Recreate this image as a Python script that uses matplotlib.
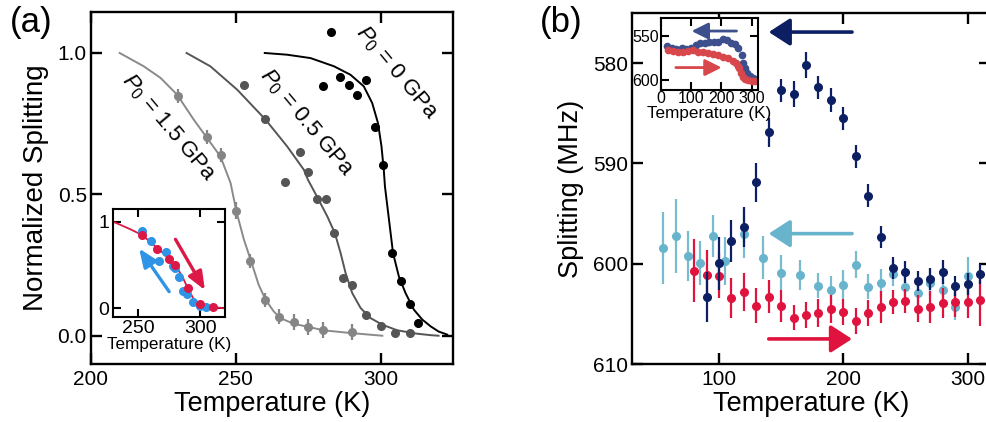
import numpy as np
import matplotlib
matplotlib.use("Agg")
import matplotlib.pyplot as plt

plt.rcParams["font.family"] = ["Liberation Sans", "DejaVu Sans"]
plt.rcParams["mathtext.fontset"] = "custom"
plt.rcParams["mathtext.rm"] = "Liberation Sans"
plt.rcParams["mathtext.it"] = "Liberation Sans:italic"

# ---------------- panel (a) data ----------------
t_p0 = [280, 283, 286, 289, 292, 295, 298, 301, 304, 307, 310, 313]
s_p0 = [0.882, 1.074, 0.915, 0.886, 0.850, 0.906, 0.739, 0.605, 0.292, 0.195, 0.112, 0.045]

t_p05 = [253, 260, 267, 272, 275, 278, 281, 284, 287, 290, 295, 300, 305, 310]
s_p05 = [0.886, 0.768, 0.544, 0.650, 0.578, 0.483, 0.483, 0.363, 0.204, 0.178, 0.072, 0.033, 0.009, 0.011]
e_p05 = [0.012] * len(t_p05)

t_p15 = [230, 240, 245, 250, 255, 260, 265, 270, 275, 280, 290]
s_p15 = [0.847, 0.702, 0.638, 0.442, 0.265, 0.127, 0.068, 0.048, 0.031, 0.020, 0.013]
e_p15 = [0.025, 0.025, 0.025, 0.03, 0.025, 0.025, 0.025, 0.028, 0.028, 0.028, 0.028]

# fit curves
fit0_t = [260, 267.7, 275.8, 283.9, 289.6, 294.2, 297.1, 299.1, 300.3, 301.1, 301.5,
          302.9, 304.3, 306.3, 308.6, 311.5, 314.4, 317.3, 320, 323]
fit0_s = [1.0, 0.994, 0.982, 0.953, 0.923, 0.882, 0.823, 0.752, 0.67, 0.587, 0.528,
          0.41, 0.292, 0.21, 0.151, 0.092, 0.057, 0.033, 0.015, 0.004]
fit05_t = [233, 241.2, 250.5, 260.3, 267.7, 273.5, 274.9, 278.3, 281.6, 284.2, 286.2,
           287.9, 290.2, 293.1, 296.5, 300.6, 305.8, 312.7, 317.3, 320]
fit05_s = [1.0, 0.953, 0.87, 0.764, 0.67, 0.587, 0.552, 0.487, 0.422, 0.363, 0.292,
           0.222, 0.151, 0.098, 0.0625, 0.039, 0.019, 0.007, 0.002, 0.0]
fit15_t = [209.9, 218.2, 224.0, 229.7, 235.5, 240.1, 244.7, 248.2, 250.2, 252.8, 255.3,
           257.9, 260.3, 263.1, 265.4, 270, 275.2, 280.4, 290.2, 300.6]
fit15_s = [1.0, 0.953, 0.912, 0.853, 0.764, 0.699, 0.634, 0.540, 0.44, 0.34, 0.263,
           0.18, 0.127, 0.086, 0.0625, 0.042, 0.031, 0.019, 0.009, 0.0]

# inset (a)
in_red_t = [253, 265, 275, 280, 290, 300, 310]
in_red_s = [0.846, 0.688, 0.569, 0.50, 0.231, 0.046, 0.015]
in_blue_t = [253, 260.5, 266.7, 272.3, 277.7, 280, 283, 286.3, 289.5, 294.4, 300, 305]
in_blue_s = [0.892, 0.777, 0.55, 0.654, 0.492, 0.46, 0.365, 0.2, 0.16, 0.069, 0.03, 0.019]
in_fit_t = [229.8, 243.3, 253.2, 265, 275, 280.9, 286.3, 290, 294.4, 298.4, 305, 320]
in_fit_s = [1.0, 0.915, 0.846, 0.70, 0.577, 0.48, 0.346, 0.231, 0.115, 0.05, 0.019, 0.0]

# ---------------- panel (b) data ----------------
nv_t = [90, 100, 110, 120, 130, 140, 150, 160, 170, 180, 190, 200, 210, 220, 230,
        240, 250, 260, 270, 280, 290, 300, 310]
nv_f = [603.3, 599.95, 597.7, 596.3, 591.9, 586.9, 582.7, 583.1, 580.2, 582.4, 583.7,
        585.5, 589.3, 593.2, 597.3, 600.4, 600.8, 601.7, 601.5, 600.8, 602.2, 602.0, 601.0]
nv_e = [2.5, 2.65, 2.1, 2.0, 1.95, 1.45, 1.15, 1.3, 1.3, 1.15, 1.2, 1.15, 1.15, 1.15,
        1.1, 1.1, 1.1, 1.0, 1.1, 1.2, 1.0, 1.1, 1.0]

lb_t = [55, 65, 75, 85, 95, 105, 120, 135, 150, 165, 180, 190, 200, 210, 220, 230,
        240, 250, 260, 270, 280, 290, 300]
lb_f = [598.4, 597.2, 599.2, 599.9, 597.2, 599.7, 597.0, 599.4, 600.9, 601.1, 602.2,
        602.6, 602.1, 600.1, 602.3, 601.9, 601.0, 602.3, 602.9, 601.9, 602.6, 604.3, 601.2]
lb_e = [3.6, 3.7, 2.5, 2.2, 2.1, 2.4, 2.45, 2.15, 1.75, 1.5, 1.25, 1.35, 1.45, 1.33,
        1.25, 1.4, 1.25, 1.25, 1.3, 1.33, 1.33, 1.33, 1.9]

rd_t = [80, 90, 100, 110, 120, 130, 140, 150, 160, 170, 180, 190, 200, 210, 220, 230,
        240, 250, 260, 270, 280, 290, 300, 310]
rd_f = [600.7, 601.1, 601.2, 603.4, 602.8, 604.2, 603.3, 604.2, 605.4, 605.1, 604.9,
        604.5, 604.8, 605.7, 604.9, 604.3, 603.8, 603.7, 604.5, 604.3, 603.9, 603.8,
        603.8, 603.6]
rd_e = [3.15, 2.5, 2.25, 2.0, 1.9, 1.75, 1.65, 1.6, 1.25, 1.3, 1.4, 1.4, 1.3, 1.33,
        1.3, 1.6, 1.2, 1.2, 1.35, 1.6, 1.5, 1.5, 1.6, 2.6]

# inset (b)
inb_nv_t = [22, 36, 52, 69, 83, 100, 116, 130, 146, 160, 177, 190, 207, 218, 231, 245,
            256, 267, 273, 278, 286, 295, 305, 317]
inb_nv_f = [561.2, 563.4, 564.5, 564, 565, 563.4, 560.4, 558.6, 558.6, 556.7, 557.5,
            556.7, 553.7, 554.8, 558.6, 559.7, 564, 571.6, 581, 586.5, 592, 594.8, 597, 598.5]
inb_rd_t = [25, 42, 58, 75, 91, 108, 124, 141, 157, 174, 190, 207, 223, 237, 248, 256,
            259, 264, 270, 278, 289, 300, 311]
inb_rd_f = [566, 567.2, 568, 568.7, 567.2, 566, 568, 568.7, 569.8, 570.9, 571.6, 573.5,
            575.4, 578.3, 581, 583.6, 586.5, 592, 595.9, 598.5, 599.6, 600.7, 600.7]

NAVY = "#0c1f63"
LBLUE = "#68b4cd"
RED = "#e0133f"
IN_BLUE = "#2f93e6"
IN_RED = "#dc1846"
INB_NAVY = "#3d4f8c"
INB_RED = "#d8474b"


def style_axes(ax, size, length, width=1.7, pad=4):
    for sp in ax.spines.values():
        sp.set_linewidth(width)
    ax.tick_params(direction="in", top=True, right=True, length=length, width=width,
                   labelsize=size, pad=pad)


def arrow(ax, start, end, color, lw, hl, hw, scale):
    ax.annotate("", xy=end, xytext=start,
                arrowprops=dict(arrowstyle=f"-|>,head_length={hl},head_width={hw}",
                                color=color, lw=lw, shrinkA=0, shrinkB=0,
                                mutation_scale=scale))


fig = plt.figure(figsize=(9.86, 4.22), dpi=100)

# ---------------- panel (a) ----------------
ax = fig.add_axes([91 / 986, 58 / 422, 362 / 986, 352 / 422])
ax.plot(fit15_t, fit15_s, color="#8a8a8a", lw=1.4)
ax.plot(fit05_t, fit05_s, color="#555555", lw=1.4)
ax.plot(fit0_t, fit0_s, color="black", lw=1.4)
ax.errorbar(t_p15, s_p15, yerr=e_p15, fmt="o", color="#858585", ms=5.5, elinewidth=1.6, capsize=0)
ax.errorbar(t_p05, s_p05, yerr=e_p05, fmt="o", color="#555555", ms=5.5, elinewidth=1.2, capsize=0)
ax.plot(t_p0, s_p0, "o", color="black", ms=5.5)
ax.set_xlim(200, 325)
ax.set_ylim(-0.1, 1.145)
ax.set_xticks([200, 250, 300])
ax.set_yticks([0.0, 0.5, 1.0])
ax.set_yticklabels(["0.0", "0.5", "1.0"])
style_axes(ax, 15, 8, pad=4)
ax.tick_params(axis="y", pad=3)
ax.set_xlabel("Temperature (K)", fontsize=19.5, labelpad=2)
ax.set_ylabel("Normalized Splitting", fontsize=20, labelpad=6)
ax.text(305.4, 0.929, r"$P_0$ = 0 GPa", rotation=-50, fontsize=16, ha="center", va="center",
        rotation_mode="anchor")
ax.text(274.3, 0.752, r"$P_0$ = 0.5 GPa", rotation=-50, fontsize=16, ha="center", va="center",
        rotation_mode="anchor")
ax.text(226.8, 0.735, r"$P_0$ = 1.5 GPa", rotation=-50, fontsize=16, ha="center", va="center",
        rotation_mode="anchor")
fig.text(10 / 986, 1 - 6 / 422, "(a)", fontsize=25, va="top", ha="left")

# inset (a)
axi = fig.add_axes([113.3 / 986, (422 - 317.3) / 422, 111.7 / 986, 108.3 / 422])
axi.plot(in_fit_t, in_fit_s, color=IN_RED, lw=1.3, zorder=2)
axi.plot(in_blue_t, in_blue_s, "o", color=IN_BLUE, ms=5.5, zorder=3)
axi.plot(in_red_t, in_red_s, "o", color=IN_RED, ms=5.5, zorder=4)
arrow(axi, (280.1, 0.796), (303.8, 0.21), IN_RED, 2.4, 1.1, 0.45, 10)
arrow(axi, (275, 0.192), (250.8, 0.69), IN_BLUE, 2.4, 1.1, 0.45, 10)
axi.set_xlim(230, 320)
axi.set_ylim(-0.104, 1.146)
axi.set_xticks([250, 300])
axi.set_yticks([0, 1])
style_axes(axi, 14, 6, width=1.5, pad=2)
axi.tick_params(axis="y", pad=3)
axi.set_xlabel("Temperature (K)", fontsize=12.3, labelpad=0)

# ---------------- panel (b) ----------------
bx = fig.add_axes([632 / 986, 58 / 422, 358 / 986, 351 / 422])
bx.errorbar(lb_t, lb_f, yerr=lb_e, fmt="o", color=LBLUE, ecolor="#79bccf", ms=5.5,
            elinewidth=1.6, capsize=0, zorder=2)
bx.errorbar(rd_t, rd_f, yerr=rd_e, fmt="o", color=RED, ms=5.5, elinewidth=1.6, capsize=0, zorder=3)
bx.errorbar(nv_t, nv_f, yerr=nv_e, fmt="o", color=NAVY, ms=5.5, elinewidth=1.6, capsize=0, zorder=4)
arrow(bx, (207, 576.9), (140, 576.9), NAVY, 2.6, 0.65, 0.42, 20)
arrow(bx, (207, 597.0), (140, 597.0), LBLUE, 2.6, 0.65, 0.42, 20)
arrow(bx, (140, 607.5), (207, 607.5), RED, 2.6, 0.65, 0.42, 20)
bx.set_xlim(30, 318)
bx.set_ylim(610, 575)
bx.set_xticks([100, 200, 300])
bx.set_yticks([580, 590, 600, 610])
style_axes(bx, 15, 8, pad=4)
bx.tick_params(axis="y", pad=3)
bx.set_xlabel("Temperature (K)", fontsize=19.5, labelpad=2)
bx.set_ylabel("Splitting (MHz)", fontsize=19.5, labelpad=6)
fig.text(540 / 986, 1 - 6 / 422, "(b)", fontsize=25, va="top", ha="left")

# inset (b)
bxi = fig.add_axes([660.7 / 986, (422 - 90) / 422, 97.6 / 986, 71.7 / 422])
bxi.plot(inb_nv_t, inb_nv_f, "o", color=INB_NAVY, ms=4.5)
bxi.plot(inb_rd_t, inb_rd_f, "o", color=INB_RED, ms=4.5)
arrow(bxi, (250, 544.8), (102, 544.8), INB_NAVY, 2.0, 1.0, 0.5, 10)
arrow(bxi, (50, 585.8), (201, 585.8), INB_RED, 2.0, 1.0, 0.5, 10)
bxi.set_xlim(0, 322)
bxi.set_ylim(611, 530.5)
bxi.set_xticks([0, 100, 200, 300])
bxi.set_yticks([550, 600])
style_axes(bxi, 11.5, 6, width=1.5, pad=1)
bxi.set_xlabel("Temperature (K)", fontsize=12.3, labelpad=0)

fig.savefig("out.png", dpi=100)
